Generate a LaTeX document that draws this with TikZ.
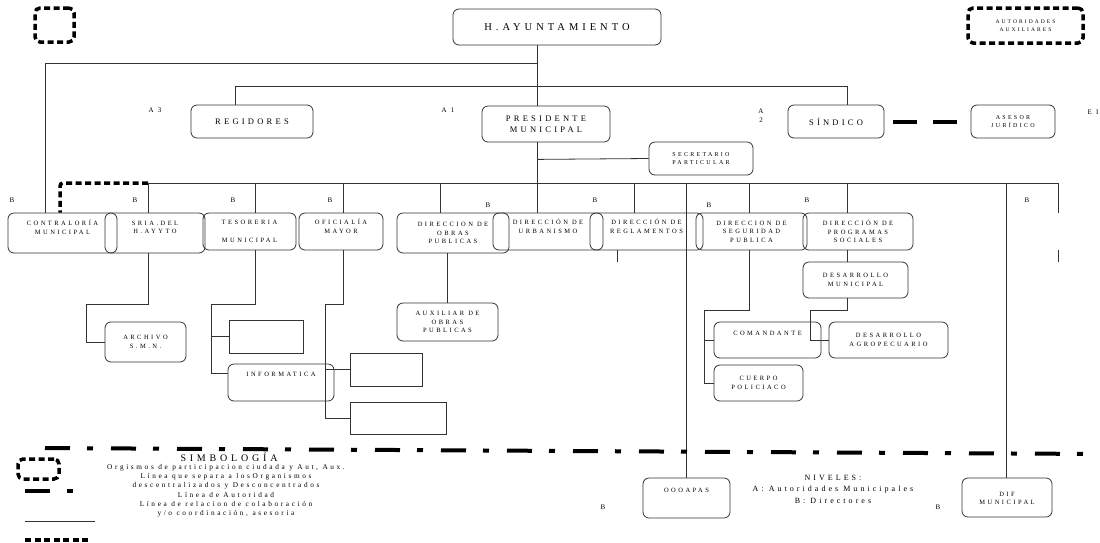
\documentclass[tikz,border=0pt]{standalone}
\usepackage{fontspec}
\setmainfont{Liberation Serif}
\newfontfamily\spaced[LetterSpace=38]{Liberation Serif}
\newfontfamily\legspaced[LetterSpace=36]{Liberation Serif}
\usetikzlibrary{positioning}

\tikzset{
  rbox/.style={rectangle, draw=black!80, line width=0.8pt, rounded corners=6pt, align=center, inner sep=1pt, text=black, font=\spaced\fontsize{6.5}{8.5}\selectfont},
  sbox/.style={rectangle, draw=black!80, line width=0.8pt, inner sep=0pt},
  dotbox/.style={rectangle, draw=black, line width=3.5pt, dash pattern=on 6pt off 3.5pt, rounded corners=5pt, align=center, inner sep=0pt, text=black, font=\spaced\fontsize{5.5}{8}\selectfont},
  lvl/.style={inner sep=0pt, text=black, align=center, font=\spaced\fontsize{7}{9}\selectfont},
  link/.style={draw=black!80, line width=0.8pt},
  dotline/.style={draw=black, line width=3.5pt, dash pattern=on 6pt off 3.5pt},
  dashdot/.style={draw=black, line width=4pt, dash pattern=on 25pt off 17pt on 6pt off 18pt},
  thickdash/.style={draw=black, line width=4pt, dash pattern=on 24pt off 16pt}
}

\begin{document}
\begin{tikzpicture}[x=1pt, y=-1pt]
\useasboundingbox (0,0) rectangle (1100,542);

% autoridades
\node[rbox, minimum width=208pt, minimum height=36pt, font=\spaced\fontsize{10.5}{12}\selectfont] (ayto) at (557,27) {H.AYUNTAMIENTO};
\node[rbox, minimum width=122pt, minimum height=33pt, font=\spaced\fontsize{8.5}{11}\selectfont] (regid) at (252,121.5) {REGIDORES};
\node[rbox, minimum width=128pt, minimum height=36pt, font=\spaced\fontsize{8.5}{11}\selectfont] (pres) at (546,124) {PRESIDENTE\\MUNICIPAL};
\node[rbox, minimum width=96pt, minimum height=33pt, font=\spaced\fontsize{8.5}{11}\selectfont] (sind) at (836,121.5) {SÍNDICO};
\node[rbox, minimum width=84pt, minimum height=33pt, font=\spaced\fontsize{6}{8}\selectfont] (ases) at (1013,121.5) {ASESOR\\JURÍDICO};
\node[rbox, minimum width=104pt, minimum height=33pt, font=\spaced\fontsize{6}{8}\selectfont] (secr) at (701,158.5) {SECRETARIO\\PARTICULAR};
\node[dotbox, minimum width=115pt, minimum height=35pt] (autaux) at (1025.5,25.5) {AUTORIDADES\\AUXILIARES};
\node[dotbox, minimum width=39pt, minimum height=34pt] (orgsq) at (54.5,25) {};

% direcciones
\node[rbox, minimum width=109pt, minimum height=40pt] (contr) at (62.5,233) {CONTRALORÍA\\MUNICIPAL\\[3pt]\mbox{}};
\node[rbox, minimum width=100pt, minimum height=40pt] (sria) at (155,233) {SRIA.DEL\\H.AYYTO\\[3pt]\mbox{}};
\node[rbox, minimum width=93pt, minimum height=37pt] (teso) at (249.5,231.5) {TESORERIA\\[9pt]MUNICIPAL};
\node[rbox, minimum width=84pt, minimum height=37pt] (ofic) at (341,231.5) {OFICIALÍA\\MAYOR\\[2pt]\mbox{}};
\node[rbox, minimum width=112pt, minimum height=40pt] (obras) at (453,233) {DIRECCION DE\\OBRAS\\PUBLICAS};
\node[rbox, minimum width=110pt, minimum height=37pt] (urban) at (548,231.5) {DIRECCIÓN DE\\URBANISMO\\[2pt]\mbox{}};
\node[rbox, minimum width=113pt, minimum height=37pt] (regla) at (646.5,231.5) {DIRECCIÓN DE\\REGLAMENTOS\\[2pt]\mbox{}};
\node[rbox, minimum width=111pt, minimum height=37pt] (segur) at (751.5,231.5) {DIRECCION DE\\SEGURIDAD\\PUBLICA};
\node[rbox, minimum width=110pt, minimum height=37pt] (progr) at (858,231.5) {DIRECCIÓN DE\\PROGRAMAS\\SOCIALES};

% areas
\node[rbox, minimum width=105pt, minimum height=36pt] (desmun) at (855.5,280) {DESARROLLO\\MUNICIPAL};
\node[rbox, minimum width=107pt, minimum height=36pt] (comand) at (767.5,340) {COMANDANTE\\[4pt]\mbox{}};
\node[rbox, minimum width=119pt, minimum height=36pt] (agro) at (888.5,340) {DESARROLLO\\AGROPECUARIO};
\node[rbox, minimum width=89pt, minimum height=36pt] (cuerpo) at (758.5,383) {CUERPO\\POLICIACO};
\node[rbox, minimum width=101pt, minimum height=38pt] (auxob) at (447.5,322) {AUXILIAR DE\\OBRAS\\PUBLICAS};
\node[rbox, minimum width=81pt, minimum height=40pt] (archivo) at (145.5,342) {ARCHIVO\\S.M.N.};
\node[sbox, minimum width=74pt, minimum height=33pt] (empty1) at (266,336.5) {};
\node[rbox, minimum width=106pt, minimum height=37pt] (informat) at (281,382.5) {INFORMATICA\\[8pt]\mbox{}};
\node[sbox, minimum width=72pt, minimum height=33pt] (empty2) at (386,369.5) {};
\node[sbox, minimum width=96pt, minimum height=32pt] (empty3) at (398,418) {};
\node[rbox, minimum width=87pt, minimum height=40pt] (oooapas) at (686.5,498) {OOOAPAS\\[7pt]\mbox{}};
\node[rbox, minimum width=90pt, minimum height=39pt] (dif) at (1007,497.5) {\mbox{}\\[-2pt]DIF\\MUNICIPAL};

% niveles
\node[lvl] (a3) at (155,110) {A 3};
\node[lvl] (a1) at (448,110) {A 1};
\node[lvl] (a2) at (761,116) {A\\2};
\node[lvl] (ei) at (1093,112) {E I};
\foreach \n/\x/\y in {b1/12/200, b2/135/200, b3/233/200, b4/330/200, b5/488/205, b6/595/200, b7/709/205, b8/807/200, b9/1027/200, b10/603/507, b11/938/507}
  \node[lvl] (\n) at (\x,\y) {B};

% lineas de autoridad
\coordinate (busl) at (148,183);
\coordinate (busr) at (1058,183);
\draw[link] ([xshift=-20pt]ayto.south) -- ([xshift=-9pt]pres.north);
\draw[link] ([xshift=-20pt]ayto.south) ++(0,18) -| ([xshift=-17.5pt]contr.north);
\draw[link] ([xshift=-17pt]regid.north) -- ++(0,-18) -| ([xshift=11pt]sind.north);
\draw[link] ([xshift=-9pt]pres.south) -- ([xshift=-11pt]urban.north);
\draw[link] ([xshift=-9pt]pres.south) ++(0,17) -- (secr.west);
\draw[link] (busl) -- (busr) -- ++(0,30);
\draw[link] (busr) ++(0,67) -- ++(0,12);
\foreach \n/\dx in {sria/-7, teso/5.5, ofic/2, obras/-13, regla/-12.5, segur/-2.5, progr/-11}
  \draw[link] ([xshift=\dx pt]\n.north) -- ([xshift=\dx pt]\n.north |- busl);
\draw[link] (oooapas.north |- busl) -- (oooapas.north);
\draw[link] ([xshift=-1pt]dif.north |- busl) -- ([xshift=-1pt]dif.north);
\draw[link] ([xshift=-29.5pt]regla.south) -- ++(0,12);

\draw[link] ([xshift=-7pt]sria.south) -- ++(0,51) -| ([xshift=-18pt]archivo.west) -- (archivo.west);
\draw[link] ([xshift=5.5pt]teso.south) -- ++(0,54) -| ([xshift=-16pt,yshift=9.5pt]informat.west) -- ([yshift=9.5pt]informat.west);
\draw[link] ([xshift=-17pt]empty1.west) -- (empty1.west);
\draw[link] ([xshift=2pt]ofic.south) -- ++(0,54) -| ([xshift=-24pt]empty3.west) -- (empty3.west);
\draw[link] ([xshift=-24pt]empty2.west) -- (empty2.west);
\draw[link] (auxob.north |- obras.south) -- (auxob.north);
\draw[link] ([xshift=-2.5pt]segur.south) -- ++(0,60) -| ([xshift=-9pt]cuerpo.west) -- (cuerpo.west);
\draw[link] ([xshift=-9pt]comand.west) -- (comand.west);
\draw[link] ([xshift=-11pt]progr.south) -- ([xshift=-8.5pt]desmun.north);
\draw[link] ([xshift=-8.5pt]desmun.south) -- ++(0,12) -| ([xshift=-18pt]agro.west) -- (agro.west);

\draw[dotline, rounded corners=3pt] (busl) -| ([xshift=-2.5pt]contr.north);
\draw[thickdash, shorten <=9pt, shorten >=14pt] (sind.east) -- (ases.west);

% separacion
\coordinate (sepa) at (45,448);
\coordinate (sepb) at (1102,454);
\draw[dashdot] (sepa) -- (sepb);

% simbologia
\node[dotbox, minimum width=41pt, minimum height=20pt] (legsq) at (38.5,469) {};
\coordinate (lda) at (25,491);
\coordinate (ldb) at (75,491);
\draw[dashdot] (lda) -- (ldb);
\coordinate (lsa) at (25,521);
\coordinate (lsb) at (95,521);
\draw[link] (lsa) -- (lsb);
\coordinate (lta) at (25,540);
\coordinate (ltb) at (89,540);
\draw[dotline] (lta) -- (ltb);
\node[inner sep=0pt, text=black, font=\spaced\fontsize{10}{12}\selectfont] (simb) at (229,457) {SIMBOLOGÍA};
\node[inner sep=0pt, anchor=north, align=center, text=black, font=\legspaced\fontsize{7.3}{9.3}\selectfont] (simtxt) at (226,464) {Orgismos de participacion ciudada y Aut, Aux.\\Línea que separa a losOrganismos\\descentralizados y Desconcentrados\\Línea de Autoridad\\Línea de relacion de colaboración\\y/o coordinación, asesoría};
\node[inner sep=0pt, align=center, text=black, font=\spaced\fontsize{8}{11.5}\selectfont] (niveles) at (833,489) {NIVELES:\\A: Autoridades Municipales\\B: Directores};
\end{tikzpicture}
\end{document}
